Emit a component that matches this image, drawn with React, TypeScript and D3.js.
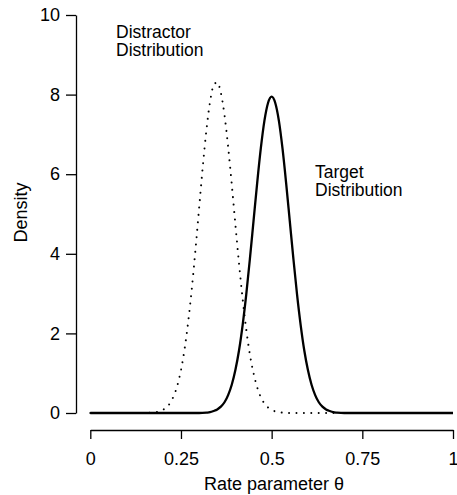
import { useEffect, useRef } from 'react';
import * as d3 from 'd3';

const WIDTH = 457;
const HEIGHT = 495;
const FONT = '"Liberation Sans", Arial, Helvetica, sans-serif';

// densities
const distractorX = [0, 0.15, 0.17, 0.18, 0.19, 0.2, 0.21, 0.22, 0.23, 0.24, 0.25, 0.26, 0.27, 0.28, 0.29, 0.3, 0.31, 0.32, 0.33, 0.34, 0.35, 0.36, 0.37, 0.38, 0.39, 0.4, 0.41, 0.42, 0.43, 0.44, 0.45, 0.46, 0.47, 0.48, 0.49, 0.5, 0.51, 0.52, 0.53, 0.55, 1];
const distractorY = [0, 0, 0.01, 0.02, 0.04, 0.08, 0.14, 0.25, 0.43, 0.69, 1.08, 1.61, 2.3, 3.14, 4.11, 5.15, 6.18, 7.1, 7.81, 8.23, 8.31, 8.04, 7.49, 6.69, 5.75, 4.74, 3.76, 2.87, 2.1, 1.47, 1.0, 0.65, 0.4, 0.24, 0.14, 0.08, 0.04, 0.02, 0.01, 0, 0];

const targetX = [0, 0.3, 0.32, 0.33, 0.34, 0.35, 0.36, 0.37, 0.38, 0.39, 0.4, 0.41, 0.42, 0.43, 0.44, 0.45, 0.46, 0.47, 0.48, 0.49, 0.5, 0.51, 0.52, 0.53, 0.54, 0.55, 0.56, 0.57, 0.58, 0.59, 0.6, 0.61, 0.62, 0.63, 0.64, 0.65, 0.66, 0.67, 0.68, 0.7, 1];
const targetY = [0, 0, 0.01, 0.02, 0.05, 0.09, 0.16, 0.27, 0.45, 0.71, 1.08, 1.57, 2.21, 2.98, 3.87, 4.82, 5.77, 6.64, 7.34, 7.79, 7.95, 7.79, 7.34, 6.64, 5.77, 4.82, 3.87, 2.98, 2.21, 1.57, 1.08, 0.71, 0.45, 0.27, 0.16, 0.09, 0.05, 0.02, 0.01, 0, 0];

const xTicks = [0, 0.25, 0.5, 0.75, 1];
const xTickLabels = ['0', '0.25', '0.5', '0.75', '1'];
const yTicks = [0, 2, 4, 6, 8, 10];

export default function App() {
  const svgRef = useRef<SVGSVGElement>(null);

  useEffect(() => {
    const svg = d3.select(svgRef.current);
    svg.selectAll('*').remove();

    const x = d3.scaleLinear().domain([0, 1]).range([90.3, 453]);
    const y = d3.scaleLinear().domain([0, 10]).range([413, 15]);

    const line = d3.line<[number, number]>()
      .x(d => x(d[0])).y(d => y(d[1]))
      .curve(d3.curveMonotoneX);

    const distractor = distractorX.map((v, i) => [v, distractorY[i]] as [number, number]);
    const target = targetX.map((v, i) => [v, targetY[i]] as [number, number]);

    // Distractor (dotted)
    svg.append('path').datum(distractor).attr('d', line)
      .attr('fill', 'none').attr('stroke', '#000').attr('stroke-width', 2)
      .attr('stroke-linecap', 'round').attr('stroke-dasharray', '0.01 7.4');

    // Target (solid)
    svg.append('path').datum(target).attr('d', line)
      .attr('fill', 'none').attr('stroke', '#000').attr('stroke-width', 2.3)
      .attr('stroke-linejoin', 'round');

    // X axis
    const gx = svg.append('g').attr('transform', 'translate(0,430)');
    gx.call(d3.axisBottom(x).tickValues(xTicks).tickSize(9).tickPadding(13)
      .tickFormat((_, i) => xTickLabels[i]).tickSizeOuter(0));
    gx.select('.domain').attr('stroke-width', 1.3);
    gx.selectAll('.tick line').attr('stroke-width', 1.3);
    gx.selectAll('text').attr('font-size', 18).attr('font-family', FONT).attr('fill', '#000');

    // Y axis
    const gy = svg.append('g').attr('transform', 'translate(76,0)');
    gy.call(d3.axisLeft(y).tickValues(yTicks).tickSize(10).tickPadding(6).tickSizeOuter(0));
    gy.select('.domain').attr('stroke-width', 1.3);
    gy.selectAll('.tick line').attr('stroke-width', 1.3);
    gy.selectAll('text').attr('font-size', 18).attr('font-family', FONT).attr('fill', '#000');

    // Axis titles
    svg.append('text')
      .attr('x', 274).attr('y', 490)
      .attr('text-anchor', 'middle')
      .attr('font-size', 18).attr('font-family', FONT)
      .text('Rate parameter θ');

    svg.append('text')
      .attr('transform', 'translate(26.5,212.5) rotate(-90)')
      .attr('text-anchor', 'middle')
      .attr('font-size', 18).attr('font-family', FONT)
      .text('Density');

    // Annotations
    const ann = [
      { x: 116, y: 37.5, lines: ['Distractor', 'Distribution'] },
      { x: 315, y: 178, lines: ['Target', 'Distribution'] },
    ];
    ann.forEach(a => {
      const t = svg.append('text')
        .attr('x', a.x).attr('y', a.y)
        .attr('font-size', 17.5).attr('font-family', FONT);
      a.lines.forEach((l, i) => {
        t.append('tspan').attr('x', a.x).attr('dy', i === 0 ? 0 : 18.3).text(l);
      });
    });
  }, []);

  return (
    <div>
      <style>{'body{margin:0;background:#fff}'}</style>
      <svg ref={svgRef} width={WIDTH} height={HEIGHT} style={{ display: 'block' }} />
    </div>
  );
}
